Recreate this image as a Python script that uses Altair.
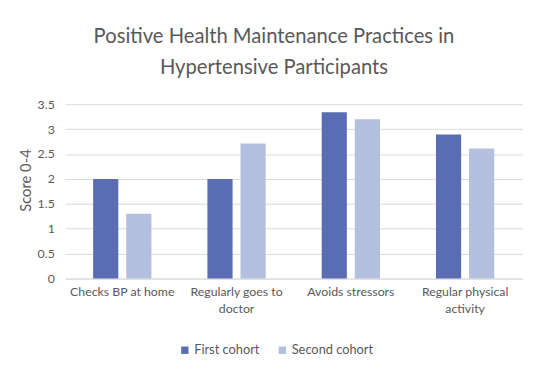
import altair as alt
import pandas as pd

categories = ["Checks BP at home", "Regularly goes to doctor", "Avoids stressors", "Regular physical activity"]
first_cohort = [2.0, 2.0, 3.34, 2.89]
second_cohort = [1.3, 2.71, 3.2, 2.61]
series = ["First cohort", "Second cohort"]
colors = ["#5a6db3", "#b3bfde"]

rows = []
for c, a, b in zip(categories, first_cohort, second_cohort):
    rows.append({"category": c, "cohort": series[0], "value": a})
    rows.append({"category": c, "cohort": series[1], "value": b})
df = pd.DataFrame(rows)

FONT = "Lato"
label_expr = ("datum.label == 'Regularly goes to doctor' ? ['Regularly goes to', 'doctor'] : "
              "datum.label == 'Regular physical activity' ? ['Regular physical', 'activity'] : datum.label")

chart = alt.Chart(df).mark_bar().encode(
    x=alt.X("category:N", sort=categories,
            scale=alt.Scale(paddingInner=0.49, paddingOuter=0.245),
            axis=alt.Axis(title=None, labelAngle=0, labelExpr=label_expr, labelFont=FONT,
                          labelFontSize=12.5, labelColor="#595959", ticks=False, domain=True,
                          domainColor="#d9d9d9", labelPadding=7, labelLineHeight=17)),
    xOffset=alt.XOffset("cohort:N", sort=series,
                        scale=alt.Scale(paddingInner=0.24, paddingOuter=0)),
    y=alt.Y("value:Q", scale=alt.Scale(domain=[0, 3.5]),
            axis=alt.Axis(title="Score 0-4", values=[0, 0.5, 1, 1.5, 2, 2.5, 3, 3.5],
                          format="~g", labelFont=FONT, labelFontSize=12.5, labelColor="#595959",
                          titleFont=FONT, titleFontSize=15, titleColor="#595959",
                          titleFontWeight="normal", ticks=False, domain=False,
                          gridColor="#d9d9d9", labelPadding=11,
                          titleX=-40, titleY=77, titleAngle=-90, titleAlign="center",
                          titleBaseline="middle")),
    color=alt.Color("cohort:N", sort=series,
                    scale=alt.Scale(domain=series, range=colors),
                    legend=alt.Legend(title=None, orient="none", legendX=115, legendY=243,
                                      direction="horizontal", symbolType="square", padding=0,
                                      symbolSize=56, labelFont=FONT, labelFontSize=13,
                                      labelOffset=3, labelColor="#595959", columnPadding=16,
                                      symbolStrokeWidth=0)),
).properties(
    width=464, height=177,
    title=alt.TitleParams(["Positive Health Maintenance Practices in", "Hypertensive Participants"],
                          font=FONT, fontSize=20.5, fontWeight="normal", color="#595959",
                          anchor="middle", dx=-20, offset=20, lineHeight=32),
    autosize=alt.AutoSizeParams(type="none"),
    padding={"left": 58, "top": 95, "right": 16, "bottom": 80},
).configure(background="white").configure_view(strokeWidth=0, stroke="transparent")

chart.save("out.html", embed_options={"renderer": "svg", "actions": False})
